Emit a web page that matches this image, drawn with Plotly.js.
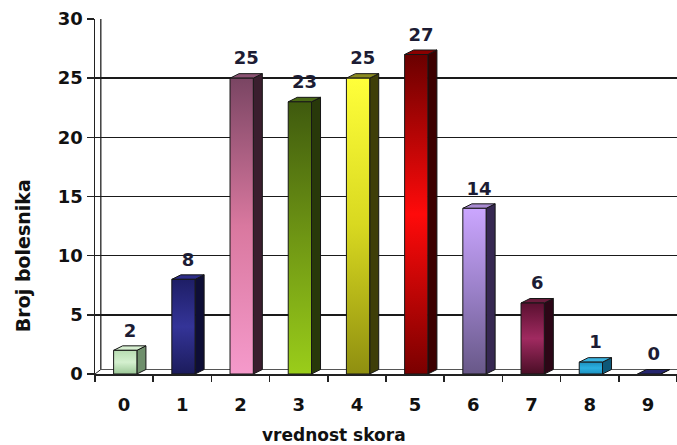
<!DOCTYPE html>
<html>
<head>
<meta charset="utf-8">
<script src="https://cdn.plot.ly/plotly-3.0.1.min.js"></script>
<style>
  html, body { margin: 0; padding: 0; background: #ffffff; }
  #chart { width: 677px; height: 445px; }
</style>
</head>
<body>
<div id="chart"></div>
<script>
// Score values (x) and number of patients per score (y)
const scores = ['0', '1', '2', '3', '4', '5', '6', '7', '8', '9'];
const patients = [2, 8, 25, 23, 25, 27, 14, 6, 1, 0];

// Front-face gradients, listed bottom -> top
const frontColors = [
  ['#9cc897', '#d4f0cf', '#b8dcb2'],
  ['#1c1c5c', '#343498', '#1e1e66'],
  ['#f59acb', '#d9789f', '#7a4563'],
  ['#9acd1a', '#6f9614', '#3f5a0e'],
  ['#8f8f10', '#d8d820', '#ffff3a'],
  ['#7a0000', '#ff0a0a', '#6a0000'],
  ['#685888', '#9a80c8', '#cba6ff'],
  ['#4a0e26', '#a02a60', '#5a1030'],
  ['#1c90c0', '#2cb0e0', '#1c90c0'],
  ['#202060', '#202060', '#202060']
];
const sideColors = ['#6f8f6c', '#0e0e36', '#3a1e2e', '#28380a', '#3e3e08',
                    '#3c0000', '#362852', '#2c0616', '#0e5878', '#101040'];
const topColors  = ['#d6efd0', '#2c2c88', '#8a5272', '#4a6a16', '#8a8a20',
                    '#8a0000', '#a88ad0', '#6a1c3c', '#3ab4e0', '#26266e'];

// 3-D column geometry (in axis units)
const faceLeft = -0.18, faceRight = 0.22;   // front face relative to category
const depthX = 0.155, depthY = 0.38;        // receding offset of side/top faces
const labelLift = 0.4;                      // extra gap between column and its label

function toScale(stops) {
  return stops.map((c, i) => [i / (stops.length - 1), c]);
}

const traces = [];
const edge = { color: '#161616', width: 1 };

patients.forEach((v, i) => {
  const x0 = i + faceLeft, x1 = i + faceRight;
  // side face
  traces.push({
    type: 'scatter', mode: 'lines', fill: 'toself', hoverinfo: 'skip',
    x: [x1, x1 + depthX, x1 + depthX, x1, x1],
    y: [0, depthY, v + depthY, v, 0],
    fillcolor: sideColors[i], line: edge, showlegend: false
  });
  // top face
  traces.push({
    type: 'scatter', mode: 'lines', fill: 'toself', hoverinfo: 'skip',
    x: [x0, x1, x1 + depthX, x0 + depthX, x0],
    y: [v, v, v + depthY, v + depthY, v],
    fillcolor: topColors[i], line: edge, showlegend: false
  });
  // front face with vertical gradient
  if (v > 0) {
    traces.push({
      type: 'scatter', mode: 'lines', fill: 'toself', hoverinfo: 'skip',
      x: [x0, x1, x1, x0, x0],
      y: [0, 0, v, v, 0],
      fillgradient: { type: 'vertical', colorscale: toScale(frontColors[i]) },
      line: edge, showlegend: false
    });
  }
});

// value labels above each column
traces.push({
  type: 'scatter', mode: 'text', hoverinfo: 'skip', showlegend: false,
  x: patients.map((v, i) => i + 0.1),
  y: patients.map(v => v + depthY + labelLift),
  text: patients.map(String),
  textposition: 'top center',
  textfont: { family: 'DejaVu Sans', size: 18, color: '#1c1c34', weight: 'bold' },
  cliponaxis: false
});

const titleFont = { family: 'DejaVu Sans', color: '#111111', weight: 'bold' };

const layout = {
  width: 677, height: 445,
  margin: { l: 95, r: 0, t: 19, b: 71 },
  paper_bgcolor: '#ffffff', plot_bgcolor: '#ffffff',
  font: { family: 'DejaVu Sans', color: '#111111' },
  xaxis: {
    range: [-0.5, 9.5], fixedrange: true,
    tickmode: 'array', tickvals: scores.map((s, i) => i), ticktext: scores,
    ticks: '', showgrid: false, zeroline: false,
    showline: true, linecolor: '#222222', linewidth: 1.5,
    ticklabelstandoff: 14,
    tickfont: { family: 'DejaVu Sans', size: 18, color: '#111111', weight: 'bold' },
    minor: { tick0: 0.5, dtick: 1, ticks: 'outside', ticklen: 6, tickwidth: 1.5, tickcolor: '#222222' }
  },
  yaxis: {
    range: [0, 30], dtick: 5, fixedrange: true,
    ticks: 'outside', ticklen: 7, tickwidth: 1.5, tickcolor: '#222222',
    showline: true, linecolor: '#222222', linewidth: 1.5,
    showgrid: true, gridcolor: '#1a1a1a', gridwidth: 1.4, zeroline: false,
    tickfont: { family: 'DejaVu Sans', size: 18, color: '#111111', weight: 'bold' }
  },
  annotations: [
    { text: 'vrednost skora', xref: 'paper', yref: 'paper', x: 0.4107, y: -0.172,
      xanchor: 'center', yanchor: 'middle', showarrow: false,
      font: Object.assign({ size: 17 }, titleFont) },
    { text: 'Broj bolesnika', xref: 'paper', yref: 'paper', x: -0.1237, y: 0.332,
      xanchor: 'center', yanchor: 'middle', showarrow: false, textangle: -90,
      font: Object.assign({ size: 19 }, titleFont) }
  ],
  shapes: [
    // back wall edge and floor edge of the 3-D plot box
    { type: 'line', xref: 'x', yref: 'y', x0: -0.5 + 0.1, x1: -0.5 + 0.1, y0: depthY, y1: 30,
      line: { color: '#222222', width: 1.3 }, layer: 'below' },
    { type: 'line', xref: 'x', yref: 'y', x0: -0.5, x1: -0.5 + 0.1, y0: 0, y1: depthY,
      line: { color: '#222222', width: 1 }, layer: 'below' },
    { type: 'line', xref: 'x', yref: 'y', x0: -0.5 + 0.1, x1: 9.5, y0: depthY, y1: depthY,
      line: { color: '#555555', width: 1 }, layer: 'below' }
  ]
};

Plotly.newPlot('chart', traces, layout, { staticPlot: true, displayModeBar: false });
</script>
</body>
</html>
